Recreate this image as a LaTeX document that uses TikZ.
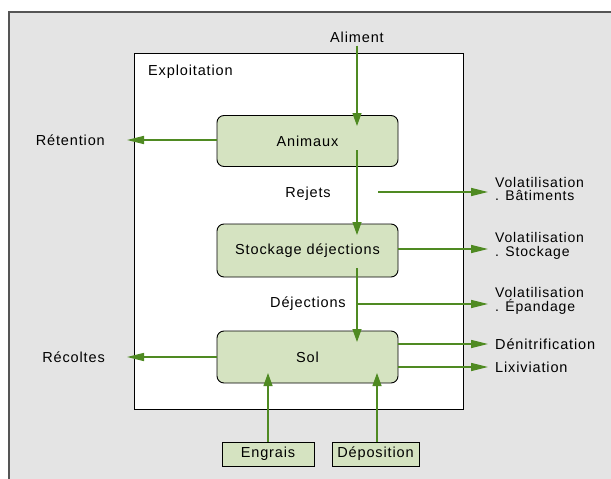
\documentclass[tikz,border=0pt]{standalone}
\usepackage{fontspec}
\setmainfont{Liberation Sans}[LetterSpace=6]
\usetikzlibrary{arrows.meta,calc}
\definecolor{bgray}{HTML}{E4E4E4}
\definecolor{bframe}{HTML}{555555}
\definecolor{boxgreen}{HTML}{D5E3C1}
\definecolor{flowgreen}{HTML}{4F8A22}
\tikzset{
  mainbox/.style={draw=black, line width=0.9pt, fill=boxgreen, rounded corners=7pt, minimum width=181pt, inner sep=0pt},
  smallbox/.style={draw=black, line width=0.9pt, fill=boxgreen, minimum height=24pt, inner sep=0pt},
  lbl/.style={font=\fontsize{14.5}{16}\selectfont, inner sep=0pt},
  twoline/.style={lbl, anchor=west, align=left, font=\fontsize{14}{13.5}\selectfont},
  flowv/.style={draw=flowgreen, line width=1.3pt, -{Triangle[length=13pt,width=9pt]}},
  flowh/.style={draw=flowgreen, line width=1.3pt, -{Triangle[length=17pt,width=8pt]}}
}
\begin{document}
\begin{tikzpicture}[x=1pt,y=-1pt]
\useasboundingbox (0,0) rectangle (611,479);
% background
\fill[bgray] (9,12) rectangle (611,479);
\draw[bframe, line width=1.8pt] (9,479) -- (9,12) -- (611,12);
% exploitation box
\draw[black, line width=0.9pt, fill=white] (134,53) rectangle (463,409);
\node[lbl, anchor=west] (exploit) at (148,72) {Exploitation};
% main boxes
\node[mainbox, minimum height=51pt, lbl] (animaux) at (307.5,141) {Animaux};
\node[mainbox, minimum height=53pt, lbl] (stockage) at (307.5,250.5) {Stockage déjections};
\node[mainbox, minimum height=52pt, lbl] (sol) at (307.5,357) {Sol};
\node[smallbox, minimum width=92pt, lbl] (engrais) at (268,454) {Engrais};
\node[smallbox, minimum width=87pt, lbl] (deposition) at (375.5,454) {Déposition};
% labels
\node[lbl] (aliment) at (357,37) {Aliment};
\node[lbl, anchor=east] (retention) at (105,140) {Rétention};
\node[lbl] (rejets) at (308,194) {Rejets};
\node[lbl] (dejections) at (308,304) {Déjections};
\node[lbl, anchor=east] (recoltes) at (105,357) {Récoltes};
\node[twoline] (vbat) at (495,189) {Volatilisation\\. Bâtiments};
\node[twoline] (vsto) at (495,246) {Volatilisation\\. Stockage};
\node[twoline] (vepa) at (495,301) {Volatilisation\\. Épandage};
\node[lbl, anchor=west] (denit) at (495,344) {Dénitrification};
\node[lbl, anchor=west] (lixiv) at (495,367) {Lixiviation};
% coordinates
\coordinate (alimTip) at (357,126);
\coordinate (rejStart) at (357,150);
\coordinate (rejTip) at (357,235);
\coordinate (batStart) at (378,192);
\coordinate (batTip) at (488,192);
\coordinate (stoTip) at (488,249);
\coordinate (dejStart) at (357,268);
\coordinate (dejTip) at (357,342);
\coordinate (epaStart) at (357,304);
\coordinate (epaTip) at (488,304);
\coordinate (denTip) at (488,344);
\coordinate (lixTip) at (488,367);
\coordinate (retTip) at (127,140);
\coordinate (recTip) at (127,357);
\coordinate (engTip) at (268,373);
\coordinate (depTip) at (377,373);
% connectors
\draw[flowv] (aliment.south) ++(0,3) -- (alimTip);
\draw[flowh] (animaux.west |- retTip) -- (retTip);
\draw[flowv] (rejStart) -- (rejTip);
\draw[flowh] (batStart) -- (batTip);
\draw[flowh] (stockage.east |- stoTip) -- (stoTip);
\draw[flowv] (dejStart) -- (dejTip);
\draw[flowh] (epaStart) -- (epaTip);
\draw[flowh] (sol.east |- denTip) -- (denTip);
\draw[flowh] (sol.east |- lixTip) -- (lixTip);
\draw[flowh] (sol.west) -- (recTip);
\draw[flowv] (engrais.north -| engTip) -- (engTip);
\draw[flowv] (deposition.north -| depTip) -- (depTip);
\end{tikzpicture}
\end{document}
